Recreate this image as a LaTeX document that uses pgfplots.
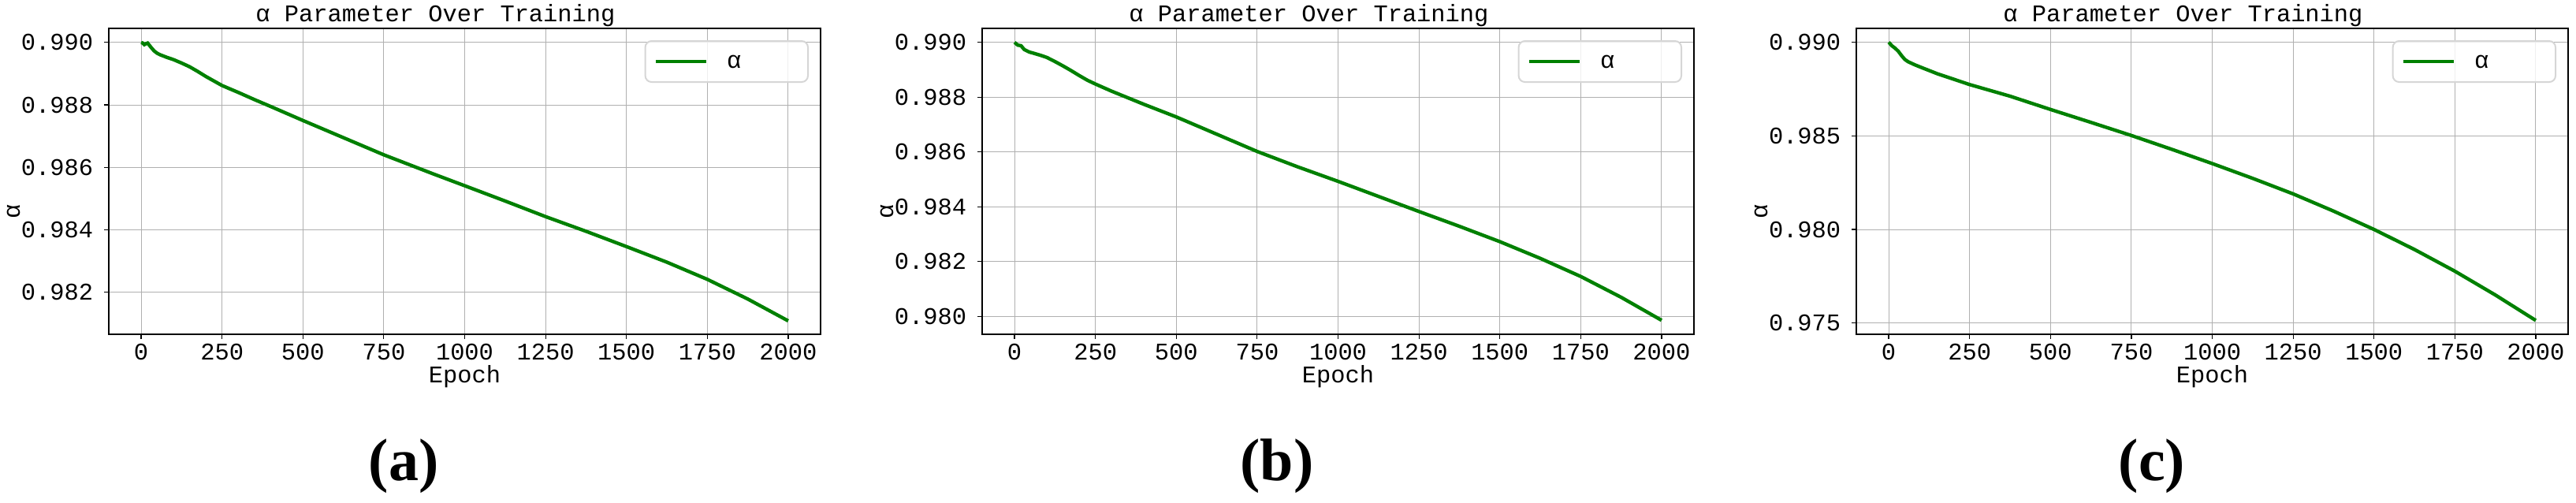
\documentclass[border=0pt]{standalone}
\usepackage{fontspec}
\setmainfont{Liberation Mono}
\newfontfamily\capfont{Liberation Serif}
\usepackage{pgfplots}
\usepackage{pgfplotstable}
\pgfplotsset{compat=1.18}

\definecolor{linegreen}{RGB}{0,128,0}
\definecolor{gridgray}{RGB}{176,176,176}
\definecolor{leggray}{RGB}{214,214,214}
\newcommand\lf{\fontsize{7.6pt}{9pt}\selectfont}

% alpha over epochs, one table per run
\pgfplotstableread{
x y
0 0.99000
5 0.98998
10 0.98993
15 0.98996
20 0.98998
30 0.98985
40 0.98973
50 0.98965
60 0.98960
80 0.98952
100 0.98945
125 0.98934
150 0.98922
175 0.98907
200 0.98891
250 0.98862
300 0.98840
350 0.98817
400 0.98795
500 0.98750
600 0.98706
750 0.98640
900 0.98580
1000 0.98541
1125 0.98492
1250 0.98442
1375 0.98395
1500 0.98346
1625 0.98296
1750 0.98241
1875 0.98178
2000 0.98108
}\runa

\pgfplotstableread{
x y
0 0.99000
5 0.98995
10 0.98990
20 0.98988
30 0.98974
45 0.98965
60 0.98960
80 0.98953
100 0.98945
125 0.98930
150 0.98914
175 0.98897
200 0.98879
225 0.98862
250 0.98848
300 0.98822
350 0.98798
400 0.98774
500 0.98728
625 0.98665
750 0.98602
875 0.98546
1000 0.98493
1125 0.98438
1250 0.98383
1375 0.98329
1500 0.98273
1625 0.98212
1750 0.98146
1875 0.98070
2000 0.97986
}\runb

\pgfplotstableread{
x y
0 0.99000
10 0.98981
20 0.98968
30 0.98951
40 0.98928
50 0.98908
60 0.98896
80 0.98880
100 0.98866
150 0.98832
200 0.98803
250 0.98774
375 0.98712
500 0.98641
625 0.98572
750 0.98502
875 0.98428
1000 0.98352
1125 0.98273
1250 0.98190
1375 0.98098
1500 0.98000
1625 0.97893
1750 0.97777
1875 0.97650
2000 0.97514
}\runc

\pgfplotsset{
  alphaax/.style={
    scale only axis, width=225.75pt, height=97pt, anchor=south west,
    xmin=-100, xmax=2100,
    xtick={0,250,...,2000},
    grid=major,
    major grid style={gridgray, line width=0.25pt},
    axis line style={black, line width=0.45pt},
    tick align=outside, tick pos=left, major tick length=1.5pt,
    tick style={black, line width=0.3pt},
    /pgf/number format/assume math mode=true,
    /pgf/number format/1000 sep={},
    ticklabel style={font=\lf},
    xticklabel style={anchor=base, inner sep=0pt, yshift=-6.5pt},
    yticklabel style={anchor=east, inner sep=0pt, xshift=-3.25pt,
      /pgf/number format/.cd, fixed, fixed zerofill, precision=3},
    scaled y ticks=false,
    title={α Parameter Over Training},
    every axis title/.style={at={(rel axis cs:0.459,1)}, anchor=base,
      yshift=2.25pt, font=\lf},
    xlabel={Epoch},
    every axis x label/.style={at={(rel axis cs:0.5,0)}, anchor=base,
      yshift=-15.25pt, font=\lf},
    ylabel={α},
    every axis y label/.style={at={(rel axis cs:0,0.40)}, xshift=-30.25pt,
      rotate=90, anchor=center, font=\lf},
    legend style={at={(rel axis cs:0.9834,0.9613)}, anchor=north east,
      draw=leggray, line width=0.5pt, rounded corners=2pt,
      fill=white, fill opacity=0.8, draw opacity=1, text opacity=1,
      inner xsep=2.75pt, inner ysep=0pt, column sep=6pt,
      nodes={inner sep=0pt, text depth=0pt, minimum height=13pt, font=\lf}},
    legend image code/.code={\draw[#1] (0pt,0pt) -- (16pt,0pt);},
  }
}

\begin{document}
\begin{tikzpicture}
\path[use as bounding box] (0,0) rectangle (817pt,159.25pt);

\begin{axis}[alphaax, at={(34.5pt,53.25pt)},
  ymin=0.98065, ymax=0.99045,
  ytick={0.982,0.984,0.986,0.988,0.990}]
\addplot[linegreen, line width=1.1pt] table[x=x, y=y] {\runa};
\addlegendentry{\makebox[23pt][l]{α}}
\end{axis}

\begin{axis}[alphaax, at={(311.5pt,53.25pt)},
  ymin=0.97935, ymax=0.99051,
  ytick={0.980,0.982,0.984,0.986,0.988,0.990}]
\addplot[linegreen, line width=1.1pt] table[x=x, y=y] {\runb};
\addlegendentry{\makebox[23pt][l]{α}}
\end{axis}

\begin{axis}[alphaax, at={(588.75pt,53.25pt)},
  ymin=0.97440, ymax=0.99074,
  ytick={0.975,0.980,0.985,0.990}]
\addplot[linegreen, line width=1.1pt] table[x=x, y=y] {\runc};
\addlegendentry{\makebox[23pt][l]{α}}
\end{axis}

\node[font=\capfont\bfseries\fontsize{19pt}{22pt}\selectfont] at (128pt,11.5pt) {(a)};
\node[font=\capfont\bfseries\fontsize{19pt}{22pt}\selectfont] at (405pt,11.5pt) {(b)};
\node[font=\capfont\bfseries\fontsize{19pt}{22pt}\selectfont] at (682.5pt,11.5pt) {(c)};
\end{tikzpicture}
\end{document}
